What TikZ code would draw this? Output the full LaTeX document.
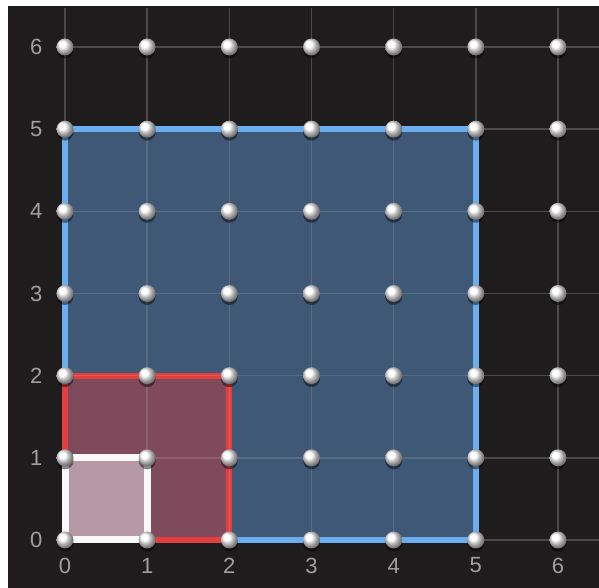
\documentclass[tikz,border=0pt]{standalone}
\usepackage{fontspec}
\setmainfont{Liberation Sans}
\definecolor{bgdark}{HTML}{1E1C1C}
\definecolor{gridgray}{HTML}{4A4848}
\definecolor{labgray}{HTML}{A09E9E}
\definecolor{bluefill}{HTML}{3F5876}
\definecolor{blueline}{HTML}{6AAEF0}
\definecolor{redfill}{HTML}{7E4A5C}
\definecolor{redline}{HTML}{E2403E}
\definecolor{whitefill}{HTML}{B699A4}
\tikzset{
  gridline/.style={draw=gridgray, line width=1.6pt},
  faintline/.style={draw=white, opacity=0.12, line width=1.4pt},
  peg/.style={circle, inner sep=0pt, minimum size=17pt, shading=ball, ball color=white},
  pegshadow/.style={circle, inner sep=0pt, minimum size=17pt, fill=black, opacity=0.45},
  axislab/.style={text=labgray, font=\fontsize{22}{26}\selectfont, inner sep=0pt},
  bluesq/.style={fill=bluefill, draw=blueline, line width=6pt, line join=miter},
  redsq/.style={fill=redfill, draw=redline, line width=6pt, line join=miter},
  whitesq/.style={fill=whitefill, draw=white!95!gray, line width=7pt, line join=miter},
}
\begin{document}
\begin{tikzpicture}[x=1pt,y=1pt]
\useasboundingbox (0,0) rectangle (599,588);
\fill[white] (0,0) rectangle (599,588);
\fill[bgdark] (8,0) rectangle (599,582);
\begin{scope}[shift={(65,48)}, x=82.17pt, y=82.17pt]
  % coordinates
  \foreach \i in {0,...,6} {
    \foreach \j in {0,...,6} {
      \coordinate (c\i\j) at (\i,\j);
    }
  }
  % grid lines
  \foreach \i in {0,...,6} {
    \draw[gridline] (\i,0) -- (\i,6.48);
    \draw[gridline] (0,\i) -- (6.5,\i);
  }
  % squares
  \path[bluesq] (c00) -- (c50) -- (c55) -- (c05) -- cycle;
  \path[redsq] (c00) -- (c20) -- (c22) -- (c02) -- cycle;
  \path[whitesq] (c00) -- (c10) -- (c11) -- (c01) -- cycle;
  % faint grid over fills
  \foreach \i in {1,...,4} {
    \draw[faintline] (\i,0.05) -- (\i,4.95);
    \draw[faintline] (0.05,\i) -- (4.95,\i);
  }
  % pegs
  \foreach \i in {0,...,6} {
    \foreach \j in {0,...,6} {
      \node[pegshadow] at ([yshift=-3pt]c\i\j) {};
      \node[peg] (p\i\j) at (c\i\j) {};
    }
  }
  % labels
  \foreach \i in {0,...,6} {
    \node[axislab] (xl\i) at (\i,-0.31) {\i};
    \node[axislab] (yl\i) at (-0.35,\i) {\i};
  }
\end{scope}
\end{tikzpicture}
\end{document}
